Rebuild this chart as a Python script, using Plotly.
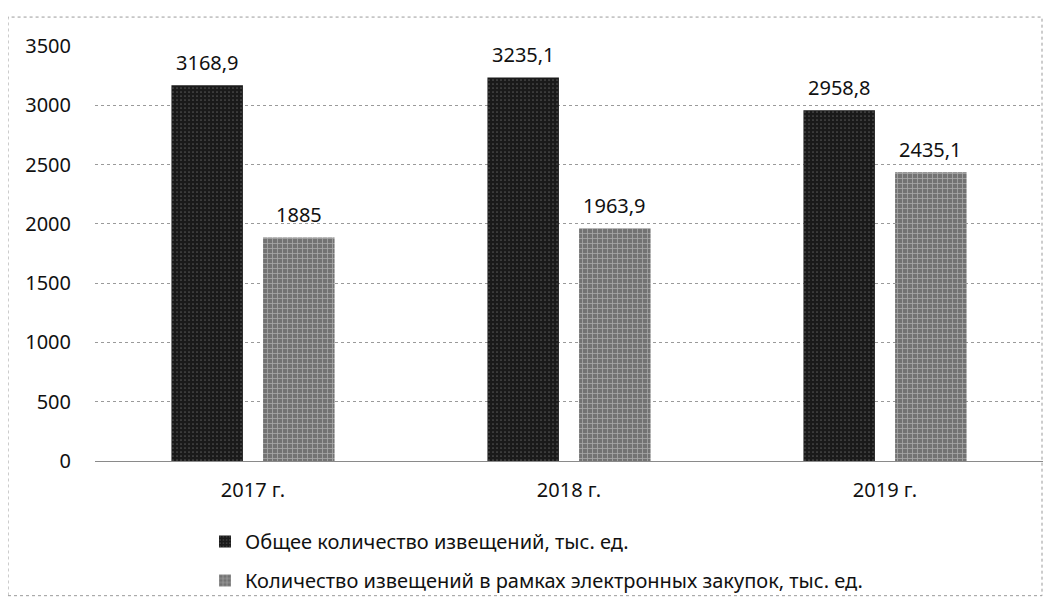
import plotly.graph_objects as go

categories = ["2017 г.", "2018 г.", "2019 г."]
total_notices = [3168.9, 3235.1, 2958.8]
electronic_notices = [1885.0, 1963.9, 2435.1]
total_labels = ["3168,9", "3235,1", "2958,8"]
electronic_labels = ["1885", "1963,9", "2435,1"]
series_names = ["Общее количество извещений, тыс. ед.",
                "Количество извещений в рамках электронных закупок, тыс. ед."]
y_ticks = [0, 500, 1000, 1500, 2000, 2500, 3000, 3500]

FONT = "Noto Sans"
FS = 20
OFF = 8  # default page body margin

fig = go.Figure()
fig.add_trace(go.Bar(
    x=categories, y=total_notices, name=series_names[0],
    marker=dict(color="#1a1a1a", line=dict(width=0),
                pattern=dict(shape=".", fgcolor="#8c8c8c", bgcolor="#1a1a1a",
                             size=4, solidity=0.15)),
    legendgroup="a",
))
fig.add_trace(go.Bar(
    x=categories, y=electronic_notices, name=series_names[1],
    marker=dict(color="#808080", line=dict(width=0),
                pattern=dict(shape="+", fgcolor="#dcdcdc", bgcolor="#737373",
                             size=5, solidity=0.3)),
    legendgroup="b",
))

W, H = 1062 - OFF, 611 - OFF
# plot area target in page pixels
X0, X1, Y0, Y1 = 95, 1043, 46, 462
ml, mt = X0 - OFF, Y0 - OFF
mr = W - (X1 - OFF)
mb = H - (Y1 - OFF)
pw, ph = W - ml - mr, H - mt - mb
cat_w = pw / len(categories)
bargap, bargroupgap = 0.42, 0.22
slot = cat_w * (1 - bargap) / 2

def px_to_paper_x(px):
    return (px - OFF - ml) / pw

def px_to_paper_y(py):
    return (H - mb - (py - OFF)) / ph

annotations = []
for labels, vals, sign in ((total_labels, total_notices, -1),
                           (electronic_labels, electronic_notices, 1)):
    for c, v, t in zip(categories, vals, labels):
        annotations.append(dict(x=c, y=v, text=t, showarrow=False,
                                xshift=sign * slot / 2, yshift=23,
                                yanchor="middle",
                                font=dict(size=FS, family=FONT, color="#111")))

fig.update_layout(
    width=W, height=H,
    margin=dict(l=ml, r=mr, t=mt, b=mb),
    paper_bgcolor="white", plot_bgcolor="white",
    font=dict(family=FONT, size=FS, color="#111"),
    barmode="group", bargap=bargap, bargroupgap=bargroupgap,
    showlegend=True,
    legend=dict(
        orientation="v", x=px_to_paper_x(205), y=px_to_paper_y(522),
        xanchor="left", yanchor="top", traceorder="grouped",
        tracegroupgap=10, font=dict(size=FS, family=FONT, color="#111"),
        bgcolor="rgba(0,0,0,0)", itemwidth=30,
    ),
    xaxis=dict(showgrid=False, showline=False, ticks="",
               tickfont=dict(size=FS), ticklabelstandoff=15),
    yaxis=dict(range=[0, 3500], tickvals=y_ticks, showgrid=True,
               gridcolor="#9a9a9a", gridwidth=1, griddash="dot",
               zeroline=True, zerolinecolor="#8a8a8a", zerolinewidth=1,
               showline=False, ticks="", tickfont=dict(size=FS),
               ticklabelstandoff=23),
    annotations=annotations,
    shapes=[dict(type="rect", xref="paper", yref="paper",
                 x0=px_to_paper_x(8), x1=px_to_paper_x(1042),
                 y0=px_to_paper_y(597), y1=px_to_paper_y(17),
                 line=dict(color="#9a9a9a", width=1, dash="dot"),
                 fillcolor="rgba(0,0,0,0)", layer="below")],
)

fig.write_html("out.html")
